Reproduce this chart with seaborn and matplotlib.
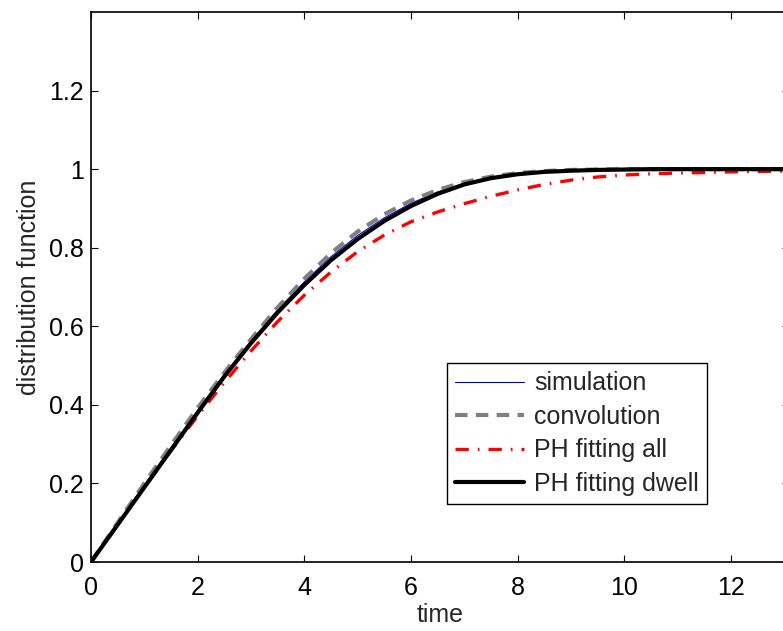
import numpy as np
import pandas as pd
import matplotlib
matplotlib.use("Agg")
import matplotlib.pyplot as plt
import seaborn as sns

# ---- data ----
t_vals = [0, 0.5, 1, 1.5, 2, 2.5, 3, 3.5, 4, 4.5, 5, 5.5, 6, 6.5, 7, 7.5,
          8, 8.5, 9, 9.5, 10, 10.5, 11, 12, 13.1]
simulation = [0, 0.097, 0.195, 0.291, 0.386, 0.477, 0.562, 0.642, 0.713, 0.777,
              0.831, 0.876, 0.913, 0.942, 0.964, 0.979, 0.988, 0.994, 0.997,
              0.998, 0.999, 1.0, 1.0, 1.0, 1.0]
convolution = [0, 0.1, 0.2, 0.297, 0.392, 0.482, 0.567, 0.648, 0.721, 0.786,
               0.841, 0.885, 0.92, 0.947, 0.967, 0.981, 0.99, 0.995, 0.998,
               0.999, 1.0, 1.0, 1.0, 1.0, 1.0]
ph_all = [0, 0.095, 0.19, 0.283, 0.372, 0.457, 0.537, 0.612, 0.679, 0.738,
          0.79, 0.832, 0.866, 0.891, 0.912, 0.931, 0.947, 0.961, 0.972,
          0.98, 0.985, 0.988, 0.99, 0.993, 0.995]
ph_dwell = [0, 0.095, 0.19, 0.285, 0.38, 0.472, 0.557, 0.635, 0.705, 0.768,
            0.822, 0.868, 0.906, 0.937, 0.961, 0.977, 0.987, 0.993, 0.996,
            0.998, 0.999, 1.0, 1.0, 1.0, 1.0]
series_names = ["simulation", "convolution", "PH fitting all", "PH fitting dwell"]
x_ticks = [0, 2, 4, 6, 8, 10, 12]
y_ticks = [0, 0.2, 0.4, 0.6, 0.8, 1.0, 1.2]
y_tick_labels = ["0", "0.2", "0.4", "0.6", "0.8", "1", "1.2"]

sns.set_style("ticks")
plt.rcParams["font.family"] = ["Liberation Sans", "DejaVu Sans"]

W, H = 783, 631
fig = plt.figure(figsize=(W / 100, H / 100), dpi=100)
left, right, top, bottom = 91, 789, 12, 562
ax = fig.add_axes([left / W, (H - bottom) / H, (right - left) / W, (bottom - top) / H])

styles = [
    dict(color="#0000cc", lw=0.8, ls="-"),
    dict(color="#808080", lw=3.0, ls=(0, (3, 2))),
    dict(color="#ff0000", lw=2.4, ls=(0, (4, 2.7, 0.5, 2.7))),
    dict(color="black", lw=3.0, ls="-"),
]
data = [simulation, convolution, ph_all, ph_dwell]
for name, ys, st in zip(series_names, data, styles):
    df = pd.DataFrame({"time": t_vals, "F": ys})
    sns.lineplot(data=df, x="time", y="F", ax=ax, color=st["color"],
                 linewidth=st["lw"], linestyle=st["ls"], label=name)

ax.set_xlim(0, 13.09)
ax.set_ylim(0, 1.4)
ax.set_xticks(x_ticks)
ax.set_xticklabels([str(v) for v in x_ticks])
ax.set_yticks(y_ticks)
ax.set_yticklabels(y_tick_labels)
ax.tick_params(direction="in", length=5, width=0.8, labelsize=18,
               top=True, right=True, colors="black")
ax.tick_params(axis="x", pad=10)
ax.tick_params(axis="y", pad=5)
for sp in ax.spines.values():
    sp.set_visible(True)
    sp.set_linewidth(1.3)
    sp.set_color("#111111")
ax.set_xlabel("time", fontsize=18, labelpad=2)
ax.set_ylabel("distribution function", fontsize=18, labelpad=6)

leg = ax.legend(loc="upper left", bbox_to_anchor=(447 / W, 1 - 363 / H),
                bbox_transform=fig.transFigure, fontsize=18, frameon=True,
                fancybox=False, edgecolor="black", framealpha=1,
                handlelength=2.75, handletextpad=0.4, labelspacing=0.38,
                borderpad=0.33, borderaxespad=0)
leg.get_frame().set_linewidth(1.0)

fig.savefig("out.png", dpi=100)
